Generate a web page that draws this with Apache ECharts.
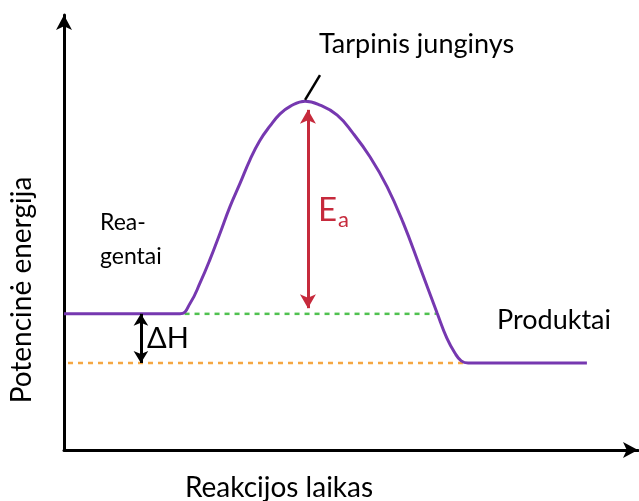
<!DOCTYPE html>
<html>
<head>
<meta charset="utf-8">
<script src="https://cdn.jsdelivr.net/npm/echarts@6/dist/echarts.min.js"></script>
<style>
  html, body { margin: 0; padding: 0; background: #fff; }
  #chart { width: 639px; height: 501px; }
</style>
</head>
<body>
<div id="chart"></div>
<script>
// reaction path (time 0..100, energy 0..100)
var pathTime   = [0, 20.2, 22.0, 23.7, 25.4, 27.2, 28.9, 30.7, 32.4, 34.1, 35.9, 37.6, 39.4, 42.0, 44.6, 47.6, 50.3, 53.3, 56.3, 59.1, 62.0, 65.0, 66.7, 68.1, 69.2, 70.4, 91.1];
var pathEnergy = [31.3, 31.3, 33.8, 38.4, 43.7, 49.9, 55.9, 61.4, 66.7, 71.1, 74.5, 77.2, 79.0, 80.2, 79.3, 77.0, 72.9, 67.4, 60.5, 52.2, 42.1, 31.5, 25.7, 22.3, 20.5, 20.0, 20.0];

var reactantLevel = 31.3;
var productLevel = 20.0;

// dotted reference lines (start / end time)
var greenSpan = [21.0, 64.8];
var orangeSpan = [0.7, 69.5];

// arrows
var eaTime = 42.5;
var eaRange = [32.6, 78.2];
var dhTime = 13.4;
var leader = [[42.0, 80.5], [44.6, 86.2]];

var FONT = 'Lato';

var chart = echarts.init(document.getElementById('chart'));

function axisCommon() {
    return {
        type: 'value',
        min: 0,
        max: 100,
        axisLine: {
            show: true,
            symbol: ['none', 'arrow'],
            symbolSize: [12, 15],
            lineStyle: { color: '#000', width: 3 }
        },
        axisTick: { show: false },
        axisLabel: { show: false },
        splitLine: { show: false }
    };
}

var option = {
    animation: false,
    grid: { left: 64, right: 1, top: 15, bottom: 51, outerBoundsMode: 'none' },
    xAxis: axisCommon(),
    yAxis: axisCommon(),
    series: [
        {
            // green dotted: reactant level
            type: 'line',
            data: [[greenSpan[0], reactantLevel], [greenSpan[1], reactantLevel]],
            showSymbol: false,
            lineStyle: { color: '#4fc14f', width: 2.5, type: [5, 5] },
            silent: true
        },
        {
            // orange dotted: product level
            type: 'line',
            data: [[orangeSpan[0], productLevel], [orangeSpan[1], productLevel]],
            showSymbol: false,
            lineStyle: { color: '#f5a742', width: 2.5, type: [5, 5] },
            silent: true
        },
        {
            type: 'line',
            data: pathTime.map(function (t, i) { return [t, pathEnergy[i]]; }),
            smooth: 0.45,
            showSymbol: false,
            lineStyle: { color: '#7638b0', width: 3 },
            silent: true,
            markLine: {
                silent: true,
                label: { show: false },
                data: [
                    [
                        { coord: [eaTime, eaRange[0]], symbol: 'arrow', symbolSize: [12, 14],
                          lineStyle: { color: '#c62a3c', width: 3, type: 'solid' } },
                        { coord: [eaTime, eaRange[1]], symbol: 'arrow', symbolSize: [12, 14] }
                    ],
                    [
                        { coord: [dhTime, reactantLevel], symbol: 'arrow', symbolSize: [11, 12],
                          lineStyle: { color: '#000', width: 3, type: 'solid' } },
                        { coord: [dhTime, productLevel], symbol: 'arrow', symbolSize: [11, 12] }
                    ],
                    [
                        { coord: leader[0], symbol: 'none', lineStyle: { color: '#000', width: 2.5, type: 'solid' } },
                        { coord: leader[1], symbol: 'none' }
                    ]
                ]
            }
        }
    ],
    graphic: [
        { type: 'text', x: 319, y: 44, style: { text: 'Tarpinis junginys', fill: '#000', font: '27px ' + FONT, verticalAlign: 'middle' } },
        { type: 'text', x: 100, y: 223, style: { text: 'Rea-', fill: '#000', font: '23px ' + FONT, verticalAlign: 'middle' } },
        { type: 'text', x: 100, y: 257, style: { text: 'gentai', fill: '#000', font: '23px ' + FONT, verticalAlign: 'middle' } },
        { type: 'text', x: 497, y: 320, style: { text: 'Produktai', fill: '#000', font: '27px ' + FONT, verticalAlign: 'middle' } },
        { type: 'text', x: 147, y: 339, style: { text: 'ΔH', fill: '#000', font: '29px ' + FONT, verticalAlign: 'middle' } },
        { type: 'text', x: 318, y: 210, style: { text: 'E', fill: '#c62a3c', font: '33px ' + FONT, verticalAlign: 'middle' } },
        { type: 'text', x: 338, y: 220, style: { text: 'a', fill: '#c62a3c', font: '22px ' + FONT, verticalAlign: 'middle' } },
        { type: 'text', x: 279, y: 488, style: { text: 'Reakcijos laikas', fill: '#000', font: '28px ' + FONT, align: 'center', verticalAlign: 'middle' } },
        { type: 'text', x: 22, y: 290, rotation: Math.PI / 2,
          style: { text: 'Potencinė energija', fill: '#000', font: '28px ' + FONT, align: 'center', verticalAlign: 'middle' } }
    ]
};

chart.setOption(option);
</script>
</body>
</html>
